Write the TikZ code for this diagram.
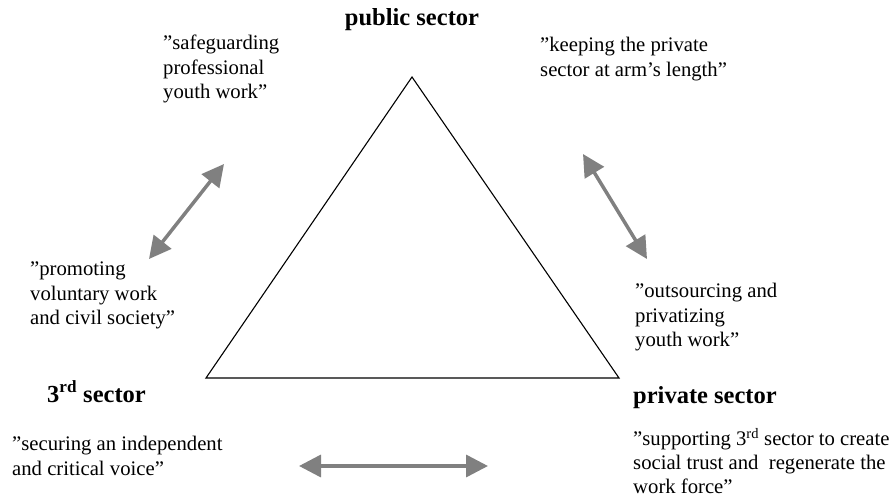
\documentclass[tikz,border=0pt]{standalone}
\usepackage{fontspec}
\setmainfont{Liberation Serif}
\usepackage{tikz}
\usetikzlibrary{arrows.meta}

\begin{document}
\begin{tikzpicture}[x=1pt, y=-1pt, >={Triangle[length=22pt, width=22pt]}]
\useasboundingbox (0,0) rectangle (895,497);

\coordinate (apex) at (412,77);
\coordinate (thirdcorner) at (206,378);
\coordinate (privatecorner) at (619,378);
\draw[line width=1.1pt, line join=miter] (apex) -- (thirdcorner) -- (privatecorner) -- cycle;

\node[anchor=base, inner sep=0pt, font=\fontsize{24.5}{28}\selectfont\bfseries] (public) at (412,26) {public sector};
\node[anchor=base west, inner sep=0pt, font=\fontsize{24.5}{28}\selectfont\bfseries] (third) at (47,402) {3\textsuperscript{rd} sector};
\node[anchor=base west, inner sep=0pt, font=\fontsize{24.5}{28}\selectfont\bfseries] (private) at (633,403) {private sector};

\node[anchor=north west, inner sep=0pt, align=left, font=\fontsize{20.7}{24.5}\selectfont] (safeguard) at (163,35)
{”safeguarding\\professional\\youth work”};
\node[anchor=north west, inner sep=0pt, align=left, font=\fontsize{20.7}{24.5}\selectfont] (armslength) at (540,37)
{”keeping the private\\sector at arm’s length”};
\node[anchor=north west, inner sep=0pt, align=left, font=\fontsize{20.7}{24.5}\selectfont] (voluntary) at (30,262)
{”promoting\\voluntary work\\and civil society”};
\node[anchor=north west, inner sep=0pt, align=left, font=\fontsize{20.7}{24.5}\selectfont] (outsourcing) at (635,283)
{”outsourcing and\\privatizing\\youth work”};
\node[anchor=north west, inner sep=0pt, align=left, font=\fontsize{20.7}{24.5}\selectfont] (independent) at (12,436)
{”securing an independent\\and critical voice”};
\node[anchor=north west, inner sep=0pt, align=left, font=\fontsize{20.7}{24}\selectfont] (supporting) at (633,428)
{”supporting 3\textsuperscript{rd} sector to create\\social trust and \ regenerate the\\work force”};

\coordinate (leftup) at (224,164);
\coordinate (leftdown) at (149,259);
\coordinate (rightup) at (583,154);
\coordinate (rightdown) at (647,259);
\coordinate (bottomleft) at (299,466);
\coordinate (bottomright) at (488,466);
\draw[<->, line width=3.5pt, draw=gray, fill=gray] (leftup) -- (leftdown);
\draw[<->, line width=3.5pt, draw=gray, fill=gray] (rightup) -- (rightdown);
\draw[<->, line width=3.5pt, draw=gray, fill=gray] (bottomleft) -- (bottomright);
\end{tikzpicture}
\end{document}
